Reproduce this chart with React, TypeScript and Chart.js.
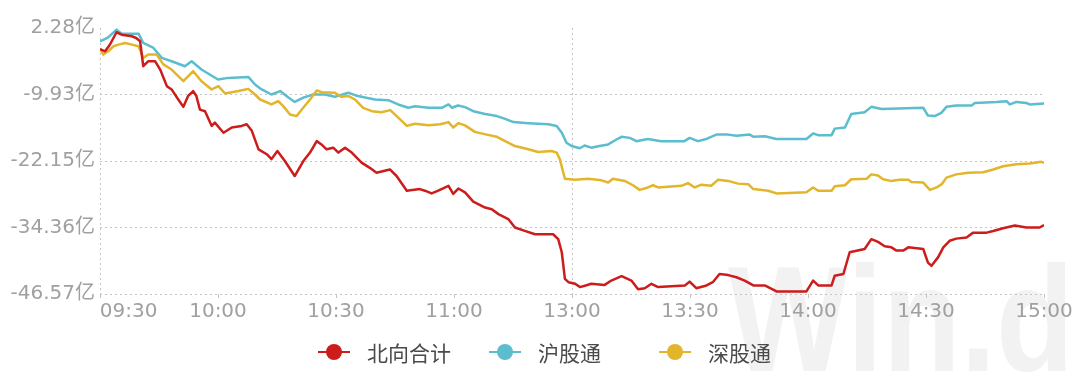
import React, { useEffect, useRef } from "react";
import { Chart, registerables } from "chart.js";

Chart.register(...registerables);

// ---- axis data ----
const xTickMinutes = [0, 30, 60, 90, 120, 150, 180, 210, 240];
const xTickLabels = ["09:30", "10:00", "10:30", "11:00", "13:00", "13:30", "14:00", "14:30", "15:00"];
const yTicks = [-46.57, -34.36, -22.15, -9.93, 2.28];
const yTickLabels = ["-46.57亿", "-34.36亿", "-22.15亿", "-9.93亿", "2.28亿"];

// ---- series: trading minute since 09:30 (lunch break collapsed), value in 亿 ----
const northMinutes = [
  0, 1.3, 2.5, 4.2, 5.5, 8.1, 9.2, 10.2, 11, 12.3, 14, 15.3, 17, 18.2, 19.9, 21.2, 22.4, 23.7, 24.5, 25.4,
  26.7, 28.4, 29.2, 31.4, 33.5, 36, 37.3, 38.6, 40.3, 42.4, 43.6, 45.1, 47, 49.5, 51.7, 53.4, 55.1, 56.3,
  57.6, 59.3, 60.6, 62.3, 64, 66.5, 68.6, 70.3, 73.7, 75.4, 78, 81.3, 82.6, 84.3, 86, 88.6, 89.8, 91.1,
  92.8, 94.9, 97.9, 99.6, 101.3, 103.8, 105.5, 108, 110.6, 115.2, 116.5, 117.4, 118.2, 119.1, 120.8, 122,
  123.5, 124.9, 128.3, 130, 132.6, 135.1, 136.8, 138.5, 140.2, 141.9, 148.7, 149.9, 151.6, 154.2, 155.8,
  157.5, 159.7, 161.8, 163.9, 166.1, 169, 172, 179.6, 181.3, 182.6, 186, 186.8, 189, 190.6, 194.4, 196.1,
  197.8, 199.5, 201.2, 202.5, 204.2, 205.5, 209.3, 210.5, 211.4, 213.1, 214.4, 216, 217.7, 220.3, 222,
  225.4, 227.1, 229.6, 232.6, 235.5, 238.9, 240,
];
const northValues = [
  -1.6, -2.0, -0.8, 1.5, 1.06, 0.76, 0.45, -0.16, -4.74, -3.82, -3.82, -5.35, -8.4, -9.0, -10.85, -12.2,
  -10.2, -9.3, -10.2, -12.7, -13.0, -15.7, -15.1, -16.95, -16.0, -15.7, -15.4, -16.6, -20.0, -20.9, -21.8,
  -20.3, -22.15, -24.9, -22.15, -20.6, -18.5, -19.1, -20.0, -19.7, -20.6, -19.7, -20.6, -22.45, -23.4,
  -24.3, -23.7, -24.9, -27.6, -27.3, -27.6, -28.1, -27.6, -26.7, -28.2, -27.2, -27.9, -29.6, -30.7, -31.0,
  -31.9, -32.8, -34.36, -34.97, -35.6, -35.6, -36.5, -38.9, -43.8, -44.4, -44.7, -45.3, -45.0, -44.7,
  -44.9, -44.1, -43.3, -44.1, -45.7, -45.5, -44.7, -45.3, -45.0, -44.3, -45.5, -45.0, -44.4, -42.9, -43.1,
  -43.5, -44.1, -45.0, -45.0, -46.1, -46.1, -44.1, -45.0, -45.0, -43.2, -42.9, -38.9, -38.3, -36.5, -37.0,
  -37.8, -38.0, -38.6, -38.6, -38.0, -38.3, -40.8, -41.4, -39.8, -38.0, -36.8, -36.4, -36.2, -35.3, -35.3,
  -35.0, -34.5, -34.0, -34.36, -34.36, -33.9,
];

const shMinutes = [
  0, 2, 4.2, 5.5, 9.8, 11, 13.6, 15.7, 18.2, 21.6, 23.3, 25.8, 30, 32.6, 37.7, 39.4, 41.1, 43.6, 45.8,
  47.9, 49.5, 51.7, 54.2, 57.2, 59.7, 63.1, 65, 67.4, 69.9, 73.3, 75.8, 78.4, 80.1, 83.5, 86.9, 88.6, 89.5,
  91, 92.8, 94.9, 97.9, 100.9, 103, 105.1, 108.9, 114, 116.1, 117.4, 118.6, 119.9, 122, 123.2, 124.9, 127,
  129.2, 131.3, 132.6, 134.7, 136.4, 139.3, 142.7, 148.6, 149.9, 152, 154.2, 156.7, 159.7, 161.8, 165.2,
  166.1, 169, 172, 179.6, 181.3, 182.6, 186, 186.8, 189.4, 191, 194.4, 196.1, 198.7, 209.3, 210.5, 212.2,
  213.9, 215.2, 217.7, 221.6, 222.4, 227.9, 230.5, 231.3, 233, 235.5, 236.4, 240,
];
const shValues = [
  -0.16, 0.5, 1.98, 1.24, 1.24, -0.47, -1.38, -3.21, -3.82, -4.74, -3.82, -5.35, -7.18, -6.88, -6.7, -8.1,
  -9.0, -9.93, -9.3, -10.5, -11.3, -10.5, -9.93, -9.93, -10.36, -9.6, -10.1, -10.5, -10.85, -10.97, -11.76,
  -12.37, -12.1, -12.37, -12.37, -11.76, -12.37, -11.95, -12.25, -13.0, -13.5, -13.9, -14.4, -15.0, -15.2,
  -15.4, -15.7, -16.95, -18.8, -19.4, -19.8, -19.3, -19.7, -19.4, -19.1, -18.2, -17.7, -17.9, -18.5, -18.1,
  -18.5, -18.5, -17.9, -18.5, -18.1, -17.3, -17.3, -17.5, -17.3, -17.7, -17.6, -18.1, -18.1, -17.1, -17.4,
  -17.4, -16.2, -16.0, -13.5, -13.2, -12.2, -12.6, -12.37, -13.8, -13.9, -13.3, -12.2, -11.95, -11.95,
  -11.5, -11.3, -11.15, -11.76, -11.3, -11.5, -11.76, -11.6,
];

const szMinutes = [
  0, 0.85, 2.1, 3.4, 4.7, 6.4, 8.1, 9.8, 11, 12.3, 14.4, 16.1, 18.2, 21.2, 23.7, 25.8, 28.4, 30.1, 31.8,
  35.2, 37.7, 39.4, 40.7, 43.6, 45.3, 46.6, 48.3, 50, 51.3, 53.4, 55.1, 56.4, 59.7, 61.4, 63.1, 64.8, 66.9,
  69.1, 71.6, 73.8, 76.3, 78, 80.1, 83.5, 86.5, 88.6, 89.8, 91.1, 92.8, 95.3, 98.3, 100.9, 103, 105.5,
  108.9, 111.4, 114.8, 116.1, 116.9, 117.8, 118.2, 120.7, 124.1, 127.5, 129.2, 130.4, 133.4, 135.5, 137.2,
  139.3, 140.6, 141.9, 147.8, 149.5, 151.2, 152.9, 155.4, 157.1, 159.7, 162.2, 164.8, 166.1, 169.9, 172,
  179.6, 181.3, 182.6, 186, 186.8, 189.4, 191, 194.9, 196.1, 197.8, 199.1, 201, 203.3, 205.5, 206.3,
  209.3, 211, 212.7, 214, 215.2, 217.7, 220.7, 224.5, 227.1, 229.6, 233, 236.4, 239.3, 240,
];
const szValues = [
  -1.56, -2.6, -1.99, -1.08, -0.77, -0.47, -0.77, -1.08, -3.21, -2.6, -2.6, -4.4, -5.35, -7.49, -5.65,
  -7.49, -9.0, -8.4, -9.75, -9.3, -8.9, -9.93, -10.85, -11.76, -11.15, -12.07, -13.6, -13.9, -12.68,
  -10.85, -9.2, -9.5, -9.6, -10.36, -10.2, -10.85, -12.4, -13.0, -13.2, -12.8, -14.5, -15.7, -15.3, -15.6,
  -15.4, -15.0, -16.0, -15.2, -15.6, -16.8, -17.3, -17.7, -18.5, -19.4, -20.0, -20.5, -20.3, -20.6, -21.8,
  -24.3, -25.4, -25.6, -25.4, -25.7, -26.1, -25.4, -25.8, -26.6, -27.45, -27.0, -26.6, -27.0, -26.7, -26.2,
  -27.0, -26.5, -26.7, -25.6, -25.8, -26.3, -26.4, -27.3, -27.6, -28.1, -27.9, -27.0, -27.6, -27.6, -26.8,
  -26.6, -25.5, -25.4, -24.6, -24.8, -25.5, -25.8, -25.6, -25.6, -26.0, -26.1, -27.45, -27.0, -26.4, -25.2,
  -24.6, -24.3, -24.2, -23.7, -23.1, -22.75, -22.6, -22.3, -22.5,
];

const seriesNames = ["北向合计", "沪股通", "深股通"];
const seriesColors = ["#cc1c1c", "#5bbdcd", "#e2b52a"];

const zip = (xs: number[], ys: number[]) => xs.map((x, i) => ({ x, y: ys[i] }));

const watermarkPlugin = {
  id: "watermark",
  beforeDraw(chart: any) {
    const ctx = chart.ctx;
    ctx.save();
    ctx.fillStyle = "#f2f2f2";
    ctx.font = 'bold 150px "Liberation Sans", Arial, sans-serif';
    ctx.textBaseline = "alphabetic";
    ctx.translate(728, 371);
    ctx.scale(0.85, 1);
    ctx.fillText("Win.d", 0, 0);
    ctx.restore();
  },
};

const legendPlugin = {
  id: "customLegend",
  afterDraw(chart: any) {
    const ctx = chart.ctx;
    const centers = [334, 505, 675];
    const y = 352;
    ctx.save();
    chart.data.datasets.forEach((ds: any, i: number) => {
      const cx = centers[i];
      ctx.strokeStyle = ds.borderColor;
      ctx.lineWidth = 2;
      ctx.beginPath();
      ctx.moveTo(cx - 16, y);
      ctx.lineTo(cx + 16, y);
      ctx.stroke();
      ctx.fillStyle = ds.borderColor;
      ctx.beginPath();
      ctx.arc(cx, y, 8, 0, Math.PI * 2);
      ctx.fill();
      ctx.fillStyle = "#4a4a4a";
      ctx.font = '21px "Noto Sans CJK SC", sans-serif';
      ctx.textBaseline = "middle";
      ctx.textAlign = "left";
      ctx.fillText(ds.label, cx + 33, y + 1);
    });
    ctx.restore();
  },
};

export default function App() {
  const ref = useRef<HTMLCanvasElement | null>(null);

  useEffect(() => {
    if (!ref.current) return;
    const tickFont = { family: '"DejaVu Sans", "Noto Sans CJK SC", sans-serif', size: 20 };
    const chart = new Chart(ref.current, {
      type: "line",
      data: {
        datasets: [
          { label: seriesNames[0], data: zip(northMinutes, northValues), borderColor: seriesColors[0], backgroundColor: seriesColors[0], order: 0 },
          { label: seriesNames[1], data: zip(shMinutes, shValues), borderColor: seriesColors[1], backgroundColor: seriesColors[1], order: 2 },
          { label: seriesNames[2], data: zip(szMinutes, szValues), borderColor: seriesColors[2], backgroundColor: seriesColors[2], order: 1 },
        ],
      },
      options: {
        responsive: false,
        animation: false,
        events: [],
        elements: {
          point: { radius: 0 },
          line: { borderWidth: 2.5, tension: 0, borderJoinStyle: "round", fill: false },
        },
        layout: { padding: { left: 0, top: 28, right: 36, bottom: 0 } },
        plugins: { legend: { display: false }, tooltip: { enabled: false } },
        scales: {
          x: {
            type: "linear",
            min: 0,
            max: 240,
            afterBuildTicks: (s: any) => {
              s.ticks = xTickMinutes.map((v) => ({ value: v }));
            },
            afterFit: (s: any) => {
              s.height = 82;
            },
            ticks: {
              autoSkip: false,
              maxRotation: 0,
              padding: 2,
              color: "#a0a0a0",
              font: tickFont,
              // the first label starts at the axis instead of being centred on it
              callback: (_v: any, i: number) => (i === 0 ? " ".repeat(9) + xTickLabels[i] : xTickLabels[i]),
            },
            grid: {
              color: (c: any) => (c.tick && (c.tick.value === 0 || c.tick.value === 120) ? "#c4c4c4" : "rgba(0,0,0,0)"),
              tickColor: "#c4c4c4",
              tickLength: 4,
              lineWidth: 1,
            },
            border: { display: false, dash: [2, 3] },
          },
          y: {
            type: "linear",
            min: yTicks[0],
            max: yTicks[yTicks.length - 1],
            afterBuildTicks: (s: any) => {
              s.ticks = yTicks.map((v) => ({ value: v }));
            },
            afterFit: (s: any) => {
              s.width = 100;
            },
            ticks: {
              padding: 5,
              color: "#a0a0a0",
              font: tickFont,
              callback: (_v: any, i: number) => yTickLabels[i],
            },
            grid: {
              drawTicks: false,
              color: (c: any) => (c.tick && c.tick.value === yTicks[yTicks.length - 1] ? "rgba(0,0,0,0)" : "#c4c4c4"),
              lineWidth: 1,
            },
            border: { display: false, dash: [2, 3] },
          },
        },
      },
      plugins: [watermarkPlugin, legendPlugin],
    } as any);
    return () => chart.destroy();
  }, []);

  return (
    <div style={{ position: "absolute", left: 0, top: 0, width: 1080, height: 376, background: "#ffffff" }}>
      <canvas ref={ref} width={1080} height={376} style={{ display: "block" }} />
    </div>
  );
}
